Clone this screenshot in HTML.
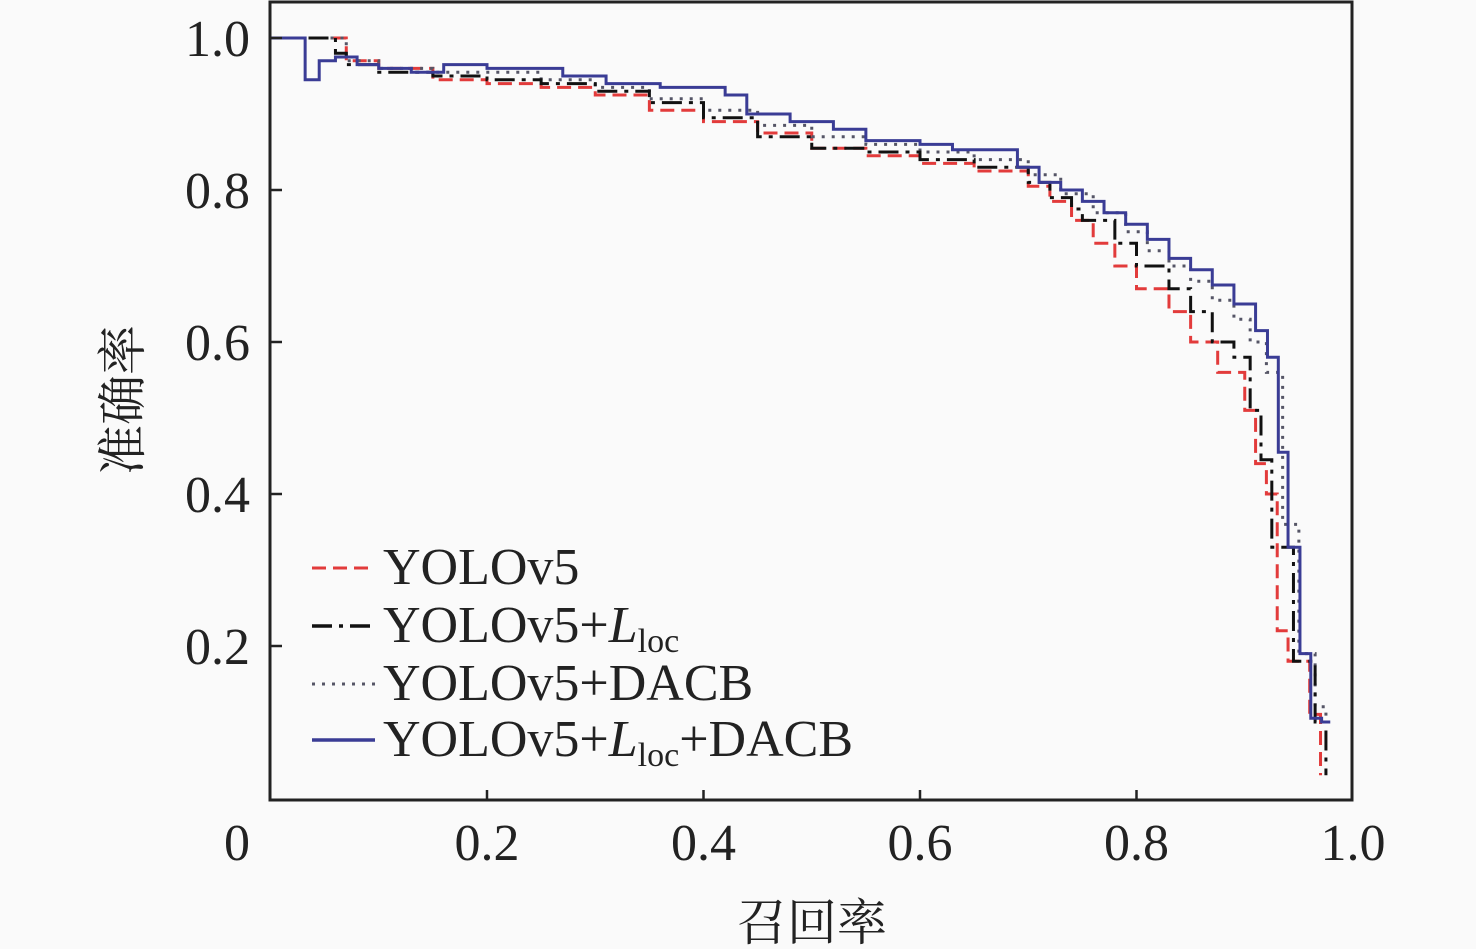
<!DOCTYPE html>
<html><head><meta charset="utf-8"><style>
html,body{margin:0;padding:0;background:#fafafa;}
svg{display:block;font-family:"Liberation Serif","Noto Serif CJK SC",serif;}
</style></head><body>
<svg id="chart" width="1476" height="949" viewBox="0 0 1476 949" xmlns="http://www.w3.org/2000/svg">
<rect x="0" y="0" width="1476" height="949" fill="#fafafa"/>
<g id="series"></g>
<rect x="270" y="2" width="1082" height="798" fill="none" stroke="#222" stroke-width="3"/>
<g id="ticks"></g>
<text x="812" y="940" font-size="50" text-anchor="middle" font-family="'Noto Serif CJK SC',serif" fill="#222">召回率</text>
<text transform="translate(140,400) rotate(-90)" font-size="50" text-anchor="middle" font-family="'Noto Serif CJK SC',serif" fill="#222">准确率</text>
<g font-size="52" fill="#222">
  <line x1="312" y1="568" x2="375" y2="568" stroke="#e23b3b" stroke-width="3" stroke-dasharray="14,7"/>
  <text x="383" y="584">YOLOv5</text>
  <line x1="312" y1="626" x2="375" y2="626" stroke="#111" stroke-width="3.5" stroke-dasharray="20,7,4,7"/>
  <text x="383" y="642">YOLOv5+<tspan font-style="italic">L</tspan><tspan font-size="34" dy="10">loc</tspan></text>
  <line x1="312" y1="684" x2="375" y2="684" stroke="#556" stroke-width="3" stroke-dasharray="3,7"/>
  <text x="383" y="700">YOLOv5+DACB</text>
  <line x1="312" y1="740" x2="375" y2="740" stroke="#3a3c95" stroke-width="3.5"/>
  <text x="383" y="756">YOLOv5+<tspan font-style="italic">L</tspan><tspan font-size="34" dy="10">loc</tspan><tspan dy="-10">+DACB</tspan></text>
</g>
</svg>
<script>
const xTicks = [0, 0.2, 0.4, 0.6, 0.8, 1.0];
const xTickLabels = ["0", "0.2", "0.4", "0.6", "0.8", "1.0"];
const yTicks = [0.2, 0.4, 0.6, 0.8, 1.0];
const yTickLabels = ["0.2", "0.4", "0.6", "0.8", "1.0"];

const recallYolo = [0,0.07,0.1,0.15,0.2,0.25,0.3,0.35,0.4,0.45,0.5,0.55,0.6,0.65,0.7,0.72,0.74,0.76,0.78,0.8,0.83,0.85,0.875,0.9,0.91,0.92,0.93,0.94,0.96,0.97];
const precYolo = [1.0,0.97,0.96,0.945,0.94,0.935,0.925,0.905,0.89,0.875,0.855,0.845,0.835,0.825,0.805,0.785,0.76,0.73,0.7,0.67,0.64,0.6,0.56,0.51,0.44,0.4,0.22,0.18,0.11,0.03];

const recallLloc = [0,0.06,0.07,0.1,0.15,0.2,0.25,0.3,0.35,0.4,0.45,0.5,0.55,0.6,0.65,0.7,0.72,0.74,0.75,0.78,0.8,0.83,0.85,0.87,0.89,0.905,0.915,0.925,0.945,0.965,0.975];
const precLloc = [1.0,0.98,0.965,0.955,0.95,0.945,0.94,0.93,0.915,0.895,0.87,0.855,0.85,0.84,0.83,0.81,0.79,0.775,0.76,0.73,0.7,0.67,0.64,0.6,0.58,0.51,0.445,0.33,0.18,0.1,0.03];

const recallDacb = [0,0.07,0.1,0.15,0.2,0.25,0.3,0.35,0.4,0.45,0.5,0.55,0.6,0.65,0.7,0.73,0.76,0.79,0.81,0.83,0.85,0.87,0.89,0.905,0.92,0.935,0.95,0.965,0.975];
const precDacb = [1.0,0.97,0.96,0.955,0.955,0.945,0.935,0.92,0.905,0.885,0.87,0.86,0.85,0.84,0.82,0.795,0.77,0.745,0.72,0.7,0.68,0.655,0.63,0.6,0.56,0.36,0.19,0.12,0.1];

const recallBoth = [0,0.032,0.045,0.06,0.08,0.1,0.13,0.16,0.2,0.27,0.31,0.36,0.42,0.44,0.48,0.52,0.55,0.6,0.63,0.69,0.71,0.73,0.75,0.77,0.79,0.81,0.83,0.85,0.87,0.89,0.91,0.921,0.931,0.94,0.951,0.961,0.971,0.979];
const precBoth = [1.0,0.945,0.97,0.975,0.965,0.96,0.955,0.965,0.96,0.95,0.94,0.935,0.925,0.9,0.89,0.88,0.865,0.86,0.853,0.83,0.81,0.8,0.785,0.77,0.755,0.735,0.71,0.695,0.675,0.65,0.615,0.58,0.455,0.33,0.19,0.105,0.1,0.1];

const NS = "http://www.w3.org/2000/svg";
function xs(v){ return 270.5 + v * 1082.5; }
function ys(v){ return 798 - v * 760; }

function stepPath(r, p){
  let d = "M" + xs(r[0]) + "," + ys(p[0]);
  for (let i = 1; i < r.length; i++){
    d += " H" + xs(r[i]) + " V" + ys(p[i]);
  }
  return d;
}

const seriesG = document.getElementById("series");
function addSeries(name, r, p, color, width, dash){
  const path = document.createElementNS(NS, "path");
  path.setAttribute("d", stepPath(r, p));
  path.setAttribute("fill", "none");
  path.setAttribute("stroke", color);
  path.setAttribute("stroke-width", width);
  if (dash) path.setAttribute("stroke-dasharray", dash);
  
  
  seriesG.appendChild(path);
}
addSeries("line-yolov5", recallYolo, precYolo, "#e23b3b", 3, "14,7");
addSeries("line-yolov5-dacb", recallDacb, precDacb, "#556", 3, "3,7");
addSeries("line-yolov5-lloc", recallLloc, precLloc, "#111", 3, "20,7,4,7");
addSeries("line-yolov5-lloc-dacb", recallBoth, precBoth, "#3a3c95", 3);

const tg = document.getElementById("ticks");
xTicks.forEach((v, i) => {
  if (v > 0 && v < 1) {
    const t = document.createElementNS(NS, "line");
    t.setAttribute("x1", xs(v)); t.setAttribute("x2", xs(v));
    t.setAttribute("y1", 800); t.setAttribute("y2", 790);
    t.setAttribute("stroke", "#222"); t.setAttribute("stroke-width", 2.5);
    
    
    tg.appendChild(t);
  }
  const tx = document.createElementNS(NS, "text");
  tx.setAttribute("x", v === 0 ? 237 : xs(v));
  tx.setAttribute("y", 860);
  tx.setAttribute("font-size", 52);
  tx.setAttribute("text-anchor", "middle");
  tx.setAttribute("fill", "#222");
  tx.textContent = xTickLabels[i];
  
  
  tg.appendChild(tx);
});
yTicks.forEach((v, i) => {
  const t = document.createElementNS(NS, "line");
  t.setAttribute("x1", 270); t.setAttribute("x2", 282);
  t.setAttribute("y1", ys(v)); t.setAttribute("y2", ys(v));
  t.setAttribute("stroke", "#222"); t.setAttribute("stroke-width", 2.5);
  
  
  tg.appendChild(t);
  const tx = document.createElementNS(NS, "text");
  tx.setAttribute("x", 250);
  tx.setAttribute("y", ys(v) + 18);
  tx.setAttribute("font-size", 52);
  tx.setAttribute("text-anchor", "end");
  tx.setAttribute("fill", "#222");
  tx.textContent = yTickLabels[i];
  
  
  tg.appendChild(tx);
});
</script>
</body></html>
